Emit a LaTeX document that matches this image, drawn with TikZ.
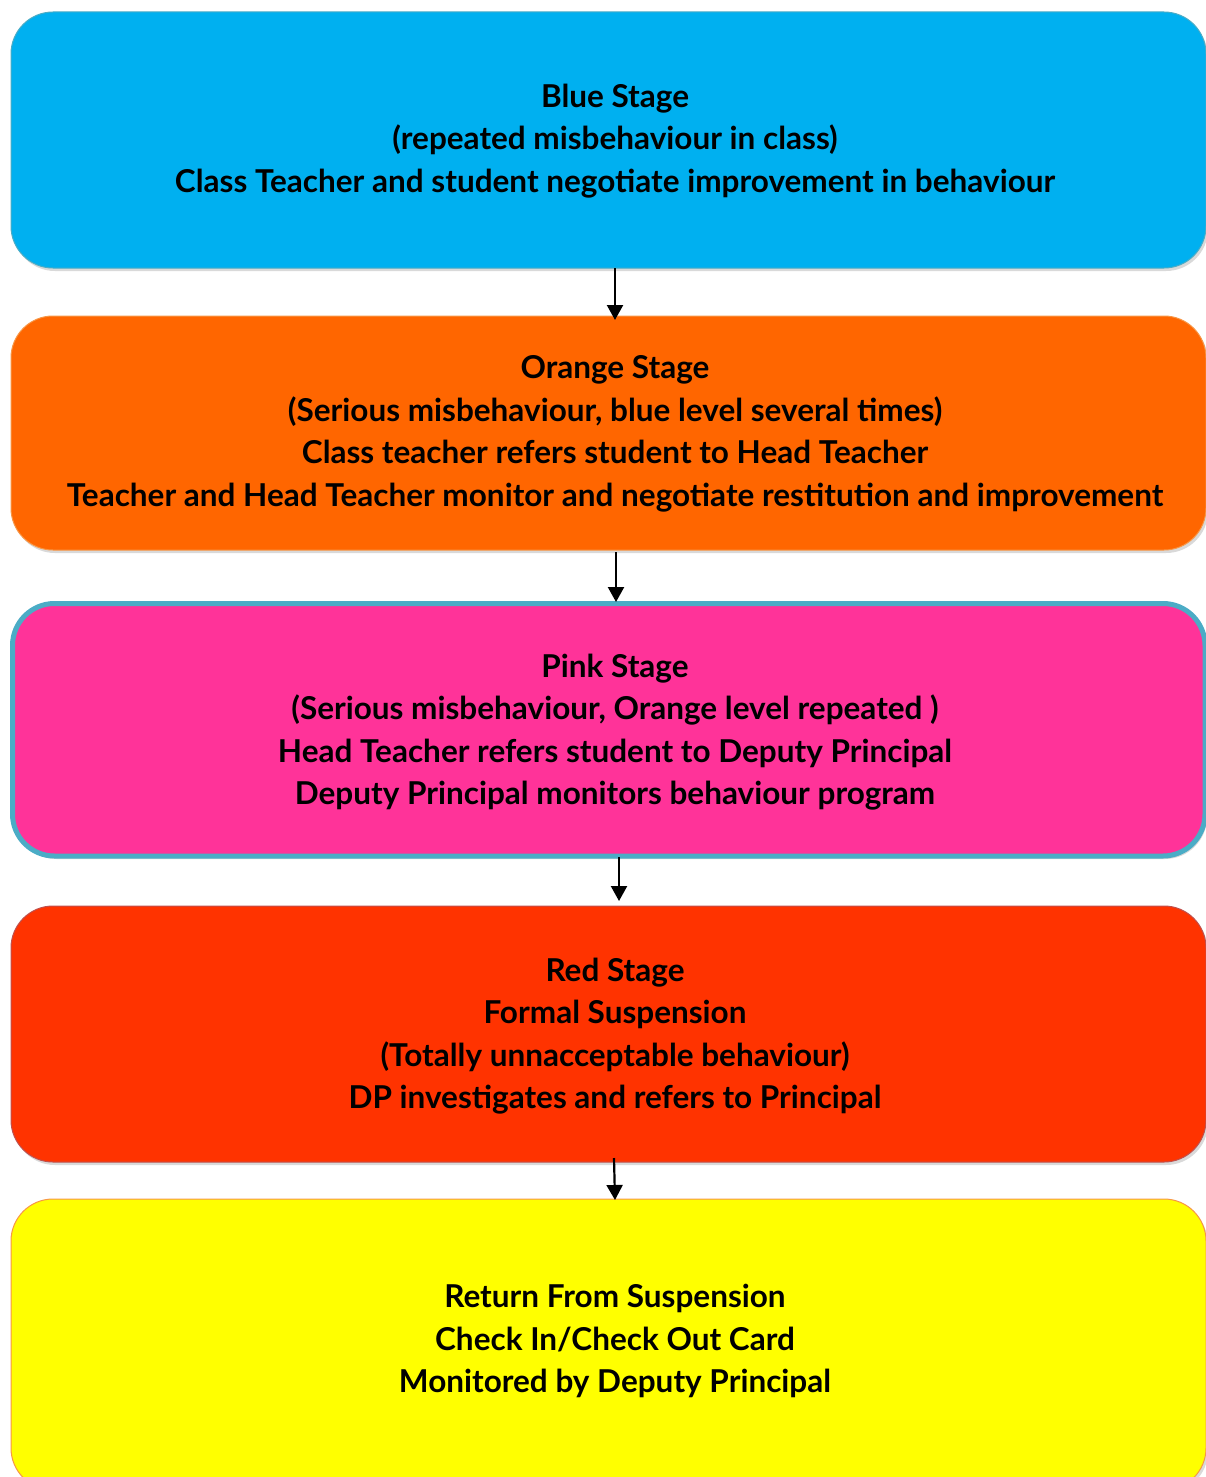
\documentclass[tikz,border=0pt]{standalone}
\usepackage{fontspec}
\setmainfont{Lato}
\usetikzlibrary{shadows,arrows.meta,calc}
\definecolor{cblue}{HTML}{00B0F0}
\definecolor{corange}{HTML}{FF6600}
\definecolor{cpink}{HTML}{FF3399}
\definecolor{cred}{HTML}{FF3300}
\definecolor{cyellow}{HTML}{FFFF00}
\definecolor{bblue}{HTML}{4BACC6}
\definecolor{borange}{HTML}{F79646}
\definecolor{bred}{HTML}{C0504D}
\tikzset{
  stagebox/.style={rounded corners=42pt, line width=1pt,
    drop shadow={shadow xshift=2pt, shadow yshift=-3pt, opacity=0.3}},
  stagetext/.style={align=center, font=\fontsize{31.5}{42.5}\selectfont\bfseries, inner sep=0pt},
  flow/.style={-{Triangle[length=15pt,width=16pt]}, line width=2.2pt, black}
}
\begin{document}
\begin{tikzpicture}[x=1pt,y=-1pt]
\useasboundingbox (0,0) rectangle (1206,1477);
% boxes
\draw[stagebox, fill=cblue, draw=bblue] (11,12) rectangle (1206,268);
\draw[stagebox, fill=corange, draw=borange] (11,316) rectangle (1206,550);
\draw[stagebox, fill=cpink, draw=bblue, line width=5pt] (12.5,603.5) rectangle (1205,856);
\draw[stagebox, fill=cred, draw=bred] (11,906) rectangle (1206,1162);
\draw[stagebox, fill=cyellow, draw=borange] (11,1199) rectangle (1206,1490);
% texts
\node[stagetext] (blue) at (615,141) {Blue Stage\\(repeated misbehaviour in class)\\Class Teacher and student negotiate improvement in behaviour};
\node[stagetext] (orange) at (615,434) {Orange Stage\\(Serious misbehaviour, blue level several times)\\Class teacher refers student to Head Teacher\\Teacher and Head Teacher monitor and negotiate restitution and improvement};
\node[stagetext] (pink) at (615,732) {Pink Stage\\(Serious misbehaviour, Orange level repeated )\\Head Teacher refers student to Deputy Principal\\Deputy Principal monitors behaviour program};
\node[stagetext] (red) at (615,1036) {Red Stage\\Formal Suspension\\(Totally unnacceptable behaviour)\\DP investigates and refers to Principal};
\node[stagetext] (yellow) at (615,1341) {Return From Suspension\\Check In/Check Out Card\\Monitored by Deputy Principal};
% arrow anchors
\coordinate (a1) at (615,268); \coordinate (b1) at (615,320);
\coordinate (a2) at (616,552); \coordinate (b2) at (616,602);
\coordinate (a3) at (619,857); \coordinate (b3) at (619,901);
\coordinate (a4) at (614,1158); \coordinate (b4) at (615,1200);
\draw[flow] (a1) -- (b1);
\draw[flow] (a2) -- (b2);
\draw[flow] (a3) -- (b3);
\draw[flow] (a4) -- (b4);
\end{tikzpicture}
\end{document}
